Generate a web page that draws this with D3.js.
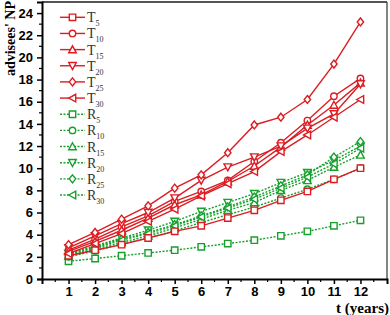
<!DOCTYPE html>
<html>
<head>
<meta charset="utf-8">
<script src="https://cdn.jsdelivr.net/npm/d3@7"></script>
<style>
  body { margin: 0; background: #fff; }
  svg { display: block; }
</style>
</head>
<body>
<div id="chart"></div>
<script>
const width = 390;
const height = 315;

const years = [1, 2, 3, 4, 5, 6, 7, 8, 9, 10, 11, 12];
const yTicks = [0, 2, 4, 6, 8, 10, 12, 14, 16, 18, 20, 22, 24];

const T5  = [2.1, 2.6, 3.1, 3.7, 4.3, 4.8, 5.5, 6.2, 7.1, 7.9, 9.0, 10.0];
const T10 = [2.6, 3.6, 4.7, 5.7, 7.0, 7.9, 8.9, 10.6, 12.3, 14.3, 16.5, 18.1];
const T15 = [2.5, 3.4, 4.4, 5.5, 6.7, 7.6, 8.8, 10.2, 11.9, 13.9, 15.7, 17.7];
const T20 = [2.8, 3.9, 5.0, 6.0, 7.3, 8.9, 10.1, 11.0, 12.0, 13.6, 14.9, 17.6];
const T25 = [3.1, 4.2, 5.4, 6.6, 8.2, 9.4, 11.4, 13.9, 14.6, 16.2, 19.4, 23.2];
const T30 = [2.3, 3.2, 4.1, 5.2, 6.3, 7.5, 8.6, 9.7, 11.5, 13.0, 14.6, 16.2];

const R5  = [1.6, 1.85, 2.1, 2.35, 2.6, 2.9, 3.2, 3.5, 3.9, 4.3, 4.8, 5.3];
const R10 = [2.0, 2.55, 3.15, 3.7, 4.35, 5.1, 5.8, 6.5, 7.3, 8.1, 9.0, 10.0];
const R15 = [2.1, 2.7, 3.3, 3.9, 4.6, 5.4, 6.2, 6.9, 8.0, 8.9, 10.1, 11.2];
const R20 = [2.3, 3.0, 3.7, 4.4, 5.2, 6.1, 6.9, 7.7, 8.7, 9.6, 10.7, 12.0];
const R25 = [2.25, 2.9, 3.6, 4.2, 4.9, 5.7, 6.5, 7.4, 8.4, 9.4, 11.0, 12.4];
const R30 = [2.2, 2.8, 3.5, 4.1, 4.8, 5.6, 6.4, 7.2, 8.2, 9.2, 10.4, 11.8];

const red = "#dc1c22";
const green = "#16a02c";

const series = [
  { base: "T", sub: "5",  values: T5,  color: red,   dashed: false, shape: "square" },
  { base: "T", sub: "10", values: T10, color: red,   dashed: false, shape: "circle" },
  { base: "T", sub: "15", values: T15, color: red,   dashed: false, shape: "up" },
  { base: "T", sub: "20", values: T20, color: red,   dashed: false, shape: "down" },
  { base: "T", sub: "25", values: T25, color: red,   dashed: false, shape: "diamond" },
  { base: "T", sub: "30", values: T30, color: red,   dashed: false, shape: "left" },
  { base: "R", sub: "5",  values: R5,  color: green, dashed: true,  shape: "square" },
  { base: "R", sub: "10", values: R10, color: green, dashed: true,  shape: "circle" },
  { base: "R", sub: "15", values: R15, color: green, dashed: true,  shape: "up" },
  { base: "R", sub: "20", values: R20, color: green, dashed: true,  shape: "down" },
  { base: "R", sub: "25", values: R25, color: green, dashed: true,  shape: "diamond" },
  { base: "R", sub: "30", values: R30, color: green, dashed: true,  shape: "left" }
];

const margin = { left: 42, top: 2, right: 3, bottom: 36 };

const x = d3.scaleLinear().domain([0, 13]).range([margin.left, width - margin.right]);
const y = d3.scaleLinear().domain([0, 25]).range([height - margin.bottom, margin.top]);

const svg = d3.select("#chart")
  .append("svg")
  .attr("width", width)
  .attr("height", height);

// frame: top and right
svg.append("line")
  .attr("x1", x(0)).attr("x2", x(13))
  .attr("y1", y(25)).attr("y2", y(25))
  .attr("stroke", "#555").attr("stroke-width", 2);
svg.append("line")
  .attr("x1", x(13)).attr("x2", x(13))
  .attr("y1", y(25)).attr("y2", y(0))
  .attr("stroke", "#333").attr("stroke-width", 1.2);

// axes
const xAxis = d3.axisBottom(x).tickValues(years).tickSize(5).tickPadding(3).tickFormat(d3.format("d"));
const yAxis = d3.axisLeft(y).tickValues(yTicks).tickSize(5).tickPadding(4).tickFormat(d3.format("d"));

const gx = svg.append("g")
  .attr("transform", `translate(0,${y(0)})`)
  .call(xAxis);
const gy = svg.append("g")
  .attr("transform", `translate(${x(0)},0)`)
  .call(yAxis);

[gx, gy].forEach(g => {
  g.select(".domain").attr("stroke", "#000").attr("stroke-width", 2);
  g.selectAll(".tick line").attr("stroke", "#000").attr("stroke-width", 1.5);
  g.selectAll(".tick text")
    .attr("fill", "#000")
    .style("font-family", "'Liberation Sans', Arial, sans-serif")
    .style("font-weight", "bold")
    .style("font-size", "13px");
});

// minor ticks
const xMinor = d3.range(0.5, 13, 1);
svg.append("g").selectAll("line")
  .data(xMinor)
  .enter().append("line")
  .attr("x1", d => x(d)).attr("x2", d => x(d))
  .attr("y1", y(0)).attr("y2", y(0) + 3)
  .attr("stroke", "#000").attr("stroke-width", 1.2);

const yMinor = d3.range(1, 25, 2);
svg.append("g").selectAll("line")
  .data(yMinor)
  .enter().append("line")
  .attr("x1", x(0)).attr("x2", x(0) - 3)
  .attr("y1", d => y(d)).attr("y2", d => y(d))
  .attr("stroke", "#000").attr("stroke-width", 1.2);

// axis titles
svg.append("text")
  .attr("transform", "translate(15,1) rotate(-90)")
  .attr("text-anchor", "end")
  .style("font-family", "'Liberation Serif', 'Times New Roman', serif")
  .style("font-weight", "bold")
  .style("font-size", "14px")
  .attr("fill", "#000")
  .text("advisees' NP");

svg.append("text")
  .attr("x", width - 1)
  .attr("y", height - 2)
  .attr("text-anchor", "end")
  .style("font-family", "'Liberation Serif', 'Times New Roman', serif")
  .style("font-weight", "bold")
  .style("font-size", "15px")
  .attr("fill", "#000")
  .text("t (years)");

function markerPath(shape) {
  const s = 3.2;
  switch (shape) {
    case "square":
      return `M${-s},${-s}H${s}V${s}H${-s}Z`;
    case "circle":
      return `M${s},0A${s},${s} 0 1,1 ${-s},0A${s},${s} 0 1,1 ${s},0Z`;
    case "up":
      return `M0,${-s - 0.6}L${s + 0.6},${s}L${-s - 0.6},${s}Z`;
    case "down":
      return `M0,${s + 0.6}L${s + 0.6},${-s}L${-s - 0.6},${-s}Z`;
    case "diamond":
      return `M0,${-s - 0.8}L${s},0L0,${s + 0.8}L${-s},0Z`;
    case "left":
      return `M${-s - 0.6},0L${s},${-s - 0.6}L${s},${s + 0.6}Z`;
  }
}

const line = d3.line()
  .x((d, i) => x(years[i]))
  .y(d => y(d));

// draw green first, red on top
const drawOrder = series.slice(6).concat(series.slice(0, 6));

drawOrder.forEach(s => {
  const g = svg.append("g");
  g.append("path")
    .datum(s.values)
    .attr("d", line)
    .attr("fill", "none")
    .attr("stroke", s.color)
    .attr("stroke-width", 1.4)
    .attr("stroke-dasharray", s.dashed ? "2,1.5" : null);
  g.selectAll("path.mk")
    .data(s.values)
    .enter().append("path")
    .attr("class", "mk")
    .attr("transform", (d, i) => `translate(${x(years[i])},${y(d)})`)
    .attr("d", markerPath(s.shape))
    .attr("fill", "#fff")
    .attr("stroke", s.color)
    .attr("stroke-width", 1.4);
});

// legend
const legend = svg.append("g");
const legendY = d3.scaleLinear().domain([0, 11]).range([17.3, 195]);

series.forEach((s, i) => {
  const ly = legendY(i);
  const item = legend.append("g").attr("transform", `translate(0,${ly})`);
  item.append("line")
    .attr("x1", 60).attr("x2", 85)
    .attr("y1", 0).attr("y2", 0)
    .attr("stroke", s.color)
    .attr("stroke-width", 1.4)
    .attr("stroke-dasharray", s.dashed ? "2,1.5" : null);
  item.append("path")
    .attr("transform", "translate(72.5,0)")
    .attr("d", markerPath(s.shape))
    .attr("fill", "#fff")
    .attr("stroke", s.color)
    .attr("stroke-width", 1.4);
  const t = item.append("text")
    .attr("x", 87)
    .attr("y", 5)
    .style("font-family", "'Liberation Serif', 'Times New Roman', serif")
    .style("font-size", "14px")
    .attr("fill", "#333");
  t.append("tspan").text(s.base);
  t.append("tspan")
    .attr("dy", 4)
    .style("font-size", "8px")
    .text(s.sub);
});
</script>
</body>
</html>
